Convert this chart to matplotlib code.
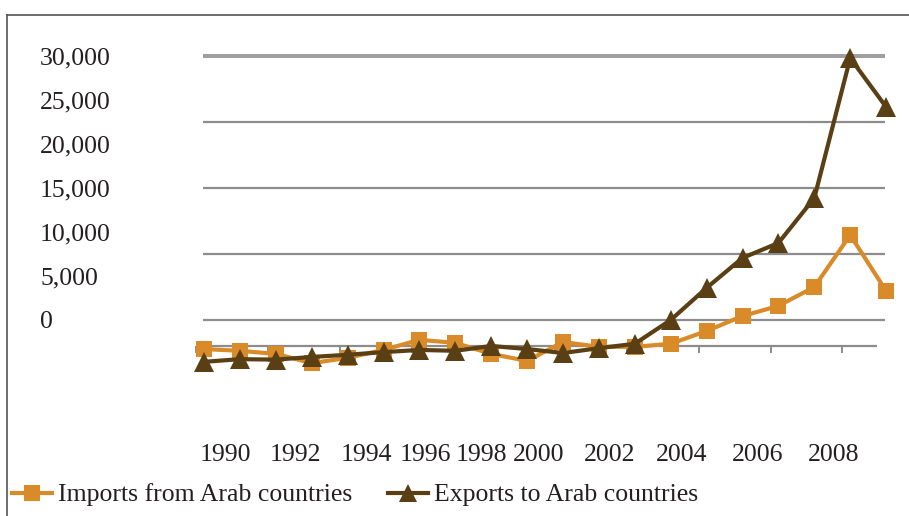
import matplotlib.pyplot as plt
from matplotlib.lines import Line2D

# -----------------------------
# DATA
# -----------------------------
years = list(range(1990, 2010))
imports_arab = [-3300, -3500, -3850, -4900, -4300, -3400, -2250, -2600, -3850, -4650,
                -2500, -3050, -3050, -2700, -1250, 450, 1600, 3750, 9650, 3300]
exports_arab = [-4750, -4450, -4500, -4200, -3950, -3650, -3400, -3500, -2950, -3300,
                -3750, -3200, -2700, 0, 3650, 7050, 8750, 13850, 29750, 24200]

ytick_vals = [0, 5000, 10000, 15000, 20000, 25000, 30000]
grid_vals = [0, 7500, 15000, 22500]
xlabels = ["1990", "1992", "1994", "1996", "1998", "2000", "2002", "2004", "2006", "2008"]

# layout (where the labels sit in the picture)
xlabel_pos = [0.61, 2.56, 4.51, 6.16, 7.74, 9.33, 11.31, 13.29, 15.43, 17.55]
axis_val = -2900
axis_ticks = [-0.22 + 2 * k for k in range(10)]

ORANGE = "#D98B2A"
BROWN = "#5A3F14"
GRID = "#8C8C8C"

plt.rcParams['font.family'] = ['Liberation Serif', 'DejaVu Serif']
FS = 18.5

fig = plt.figure(figsize=(9.09, 5.16), dpi=100)
ax = fig.add_axes([180 / 909, 1 - 380 / 516, 725 / 909, 340 / 516])
ax.set_xlim(-0.669, 19.526)
ax.set_ylim(-6816, 31808)

# -----------------------------
# GRID + AXIS LINE
# -----------------------------
ax.hlines(grid_vals, -0.03, 18.97, color=GRID, lw=1.6, zorder=1)
ax.hlines([29890, 30110], -0.03, 18.97, color=GRID, lw=1.2, zorder=1)
ax.hlines(axis_val, -0.22, 18.75, color=GRID, lw=1.6, zorder=1)
ax.vlines(axis_ticks, axis_val - 800, axis_val, color=GRID, lw=1.4, zorder=1)

# -----------------------------
# SERIES
# -----------------------------
xs = list(range(len(years)))
ax.plot(xs, imports_arab, color=ORANGE, lw=3, marker='s', markersize=12,
        markeredgewidth=0, zorder=3, clip_on=False)
ax.plot(xs, exports_arab, color=BROWN, lw=3, marker='^', markersize=15,
        markeredgewidth=0, zorder=4, clip_on=False)

for s in ax.spines.values():
    s.set_visible(False)

ax.set_yticks(ytick_vals)
ax.set_yticklabels([f"{v:,}" for v in ytick_vals], fontsize=FS, color="#231F20")
ax.tick_params(axis='y', length=0, pad=100.8)
for lab in ax.get_yticklabels():
    lab.set_ha('left')

ax.set_xticks(xlabel_pos)
ax.set_xticklabels(xlabels, fontsize=FS, color="#231F20")
ax.tick_params(axis='x', length=0, pad=46)

# -----------------------------
# LEGEND
# -----------------------------
handles = [
    Line2D([], [], color=ORANGE, lw=3, marker='s', markersize=12, markeredgewidth=0),
    Line2D([], [], color=BROWN, lw=3, marker='^', markersize=13, markeredgewidth=0),
]
fig.legend(handles, ["Imports from Arab countries", "Exports to Arab countries"],
           loc='center left', bbox_to_anchor=(12 / 909, 1 - 495 / 516), ncol=2,
           frameon=False, fontsize=FS, handlelength=1.56, handletextpad=0.23,
           columnspacing=1.4, borderpad=0, borderaxespad=0, labelcolor="#231F20")

# frame lines at top and left
fig.add_artist(Line2D([7 / 909, 7 / 909], [0, 1 - 15 / 516], color="#555555", lw=1.2))
fig.add_artist(Line2D([7 / 909, 1], [1 - 15 / 516, 1 - 15 / 516], color="#555555", lw=1.2))

fig.savefig("out.png", dpi=100)
